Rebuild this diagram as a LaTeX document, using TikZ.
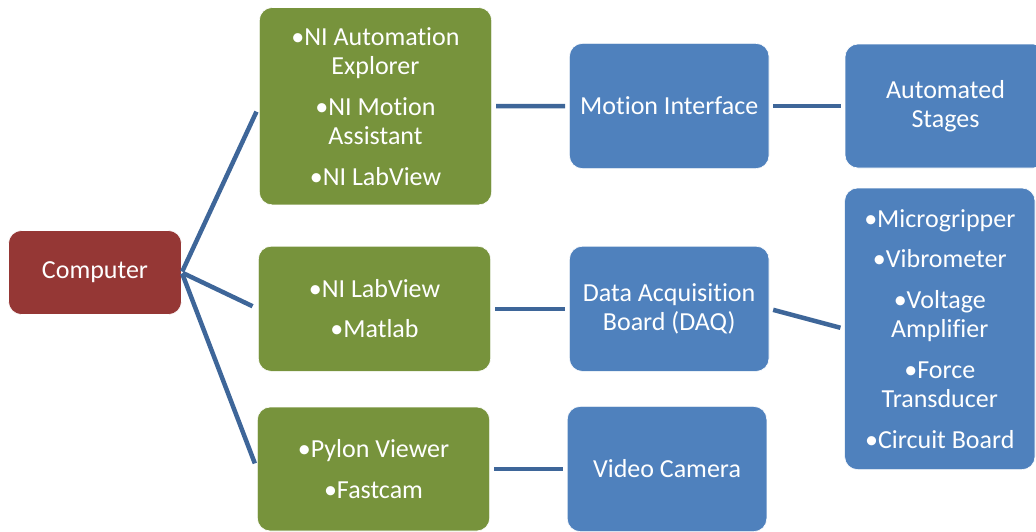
\documentclass[tikz,border=0pt]{standalone}
\usepackage{fontspec}
\setmainfont{Carlito}[Ligatures={NoCommon,NoRare,NoContextual}]
\definecolor{comphead}{RGB}{149,55,53}
\definecolor{softgreen}{RGB}{119,147,60}
\definecolor{hwblue}{RGB}{79,129,189}
\definecolor{linkblue}{RGB}{62,102,153}
\begin{document}
\begin{tikzpicture}[x=0.5pt, y=-0.5pt,
        box/.style={rounded corners=6.5pt, draw=white, line width=0.3pt, text=white,
            align=center, inner sep=0pt, font=\fontsize{13}{14.75}\selectfont},
        softbox/.style={box, fill=softgreen, minimum width=116.2pt},
        hwbox/.style={box, fill=hwblue},
        link/.style={draw=linkblue, line width=2.25pt, shorten <=2pt, shorten >=2pt},
        fan/.style={link, shorten <=0.5pt, shorten >=3pt}]
        \useasboundingbox (0,0) rectangle (1036,531);
        % computer
        \node [box, fill=comphead, minimum width=86.5pt, minimum height=42pt] (comp) at (95,272.5) {Computer};
        % software
        \node [softbox, minimum height=98.7pt] (sw1) at (375.5,106.2)
            {•NI Automation\\Explorer\\[5.5pt]•NI Motion\\Assistant\\[5.5pt]•NI LabView};
        \node [softbox, minimum height=62.6pt] (sw2) at (374.5,308.8)
            {•NI LabView\\[5.5pt]•Matlab};
        \node [softbox, minimum height=62pt] (sw3) at (373.5,469)
            {•Pylon Viewer\\[5.5pt]•Fastcam};
        % interfaces
        \node [hwbox, minimum width=99.8pt, minimum height=62.6pt] (mi) at (669.2,106) {Motion Interface};
        \node [hwbox, minimum width=99.8pt, minimum height=62.6pt] (daq) at (669.2,308.8) {Data Acquisition\\Board (DAQ)};
        \node [hwbox, minimum width=99.8pt, minimum height=62.6pt] (vc) at (667,469) {Video Camera};
        % hardware
        \node [hwbox, minimum width=100.5pt, minimum height=62pt] (stages) at (945.5,106) {Automated\\Stages};
        \node [hwbox, minimum width=95.2pt, minimum height=140.8pt] (dev) at (939.8,328.8)
            {•Microgripper\\[5.5pt]•Vibrometer\\[5.5pt]•Voltage\\Amplifier\\[5.5pt]•Force\\Transducer\\[5.5pt]•Circuit Board};
        % connectors
        \draw [fan] (comp.east) -- (sw1.west);
        \draw [fan] (comp.east) -- (sw2.west);
        \draw [fan] (comp.east) -- (sw3.west);
        \draw [link] (sw1) -- (mi);
        \draw [link] (mi) -- (stages);
        \draw [link] (sw2) -- (daq);
        \draw [link] (daq.east) -- (dev.west);
        \draw [link] (sw3) -- (vc);
\end{tikzpicture}
\end{document}
